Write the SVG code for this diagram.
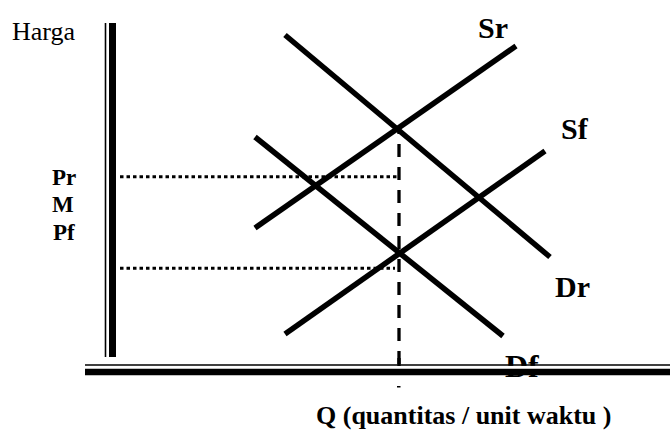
<svg xmlns="http://www.w3.org/2000/svg" width="670" height="433" viewBox="0 0 670 433">
<style>
  text { font-family: "Liberation Serif", "Times New Roman", serif; fill: #000; }
  .b { font-weight: bold; }
  .curve { stroke: #000; stroke-width: 5.5; fill: none; stroke-linecap: butt; }
  .dot { stroke: #000; stroke-width: 3; stroke-dasharray: 3.5 3; fill: none; }
  .dash { stroke: #000; stroke-width: 3.3; stroke-dasharray: 13 10; stroke-dashoffset: 7; fill: none; }
</style>
<rect width="670" height="433" fill="#fff"/>

<g id="labels-price">
  <text x="12" y="40" font-size="26">Harga</text>
  <text x="52" y="185" font-size="23" class="b">Pr</text>
  <text x="52" y="212" font-size="23" class="b">M</text>
  <text x="53" y="240" font-size="23" class="b">Pf</text>
</g>

<g id="guides">
  <line class="dot" x1="120" y1="176.7" x2="397" y2="176.7"/>
  <line class="dot" x1="120" y1="268.3" x2="395" y2="268.3"/>
  <line class="dash" x1="399" y1="128" x2="399" y2="372"/>
  <rect x="397" y="386" width="3.5" height="1.5" fill="#000"/>
</g>

<g id="curves">
  <g id="Dr"><line class="curve" x1="285" y1="35" x2="550" y2="257"/></g>
  <g id="Sr"><line class="curve" x1="255" y1="228" x2="516" y2="46"/></g>
  <g id="Df"><line class="curve" x1="255" y1="137" x2="503" y2="336"/></g>
  <g id="Sf"><line class="curve" x1="285" y1="334" x2="545" y2="151"/></g>
</g>

<g id="curve-labels">
  <text x="478" y="38" font-size="30" class="b">Sr</text>
  <text x="561" y="139" font-size="30" class="b">Sf</text>
  <text x="555" y="297" font-size="30" class="b">Dr</text>
  <text x="505" y="377" font-size="32" class="b">Df</text>
</g>

<g id="axes">
  <line x1="105.5" y1="23" x2="105.5" y2="357" stroke="#000" stroke-width="1.6"/>
  <line x1="112.5" y1="23" x2="112.5" y2="357" stroke="#000" stroke-width="7"/>
  <rect x="85" y="365.8" width="585" height="3.2" fill="#fff"/>
  <line x1="85" y1="365" x2="670" y2="365" stroke="#000" stroke-width="1.6"/>
  <line x1="85" y1="372" x2="670" y2="372" stroke="#000" stroke-width="6.3"/>
  <line x1="399" y1="358" x2="399" y2="366" stroke="#000" stroke-width="3.3"/>
</g>

<g id="axis-label">
  <text x="316" y="424" font-size="26" class="b">Q (quantitas / unit waktu )</text>
</g>
</svg>
